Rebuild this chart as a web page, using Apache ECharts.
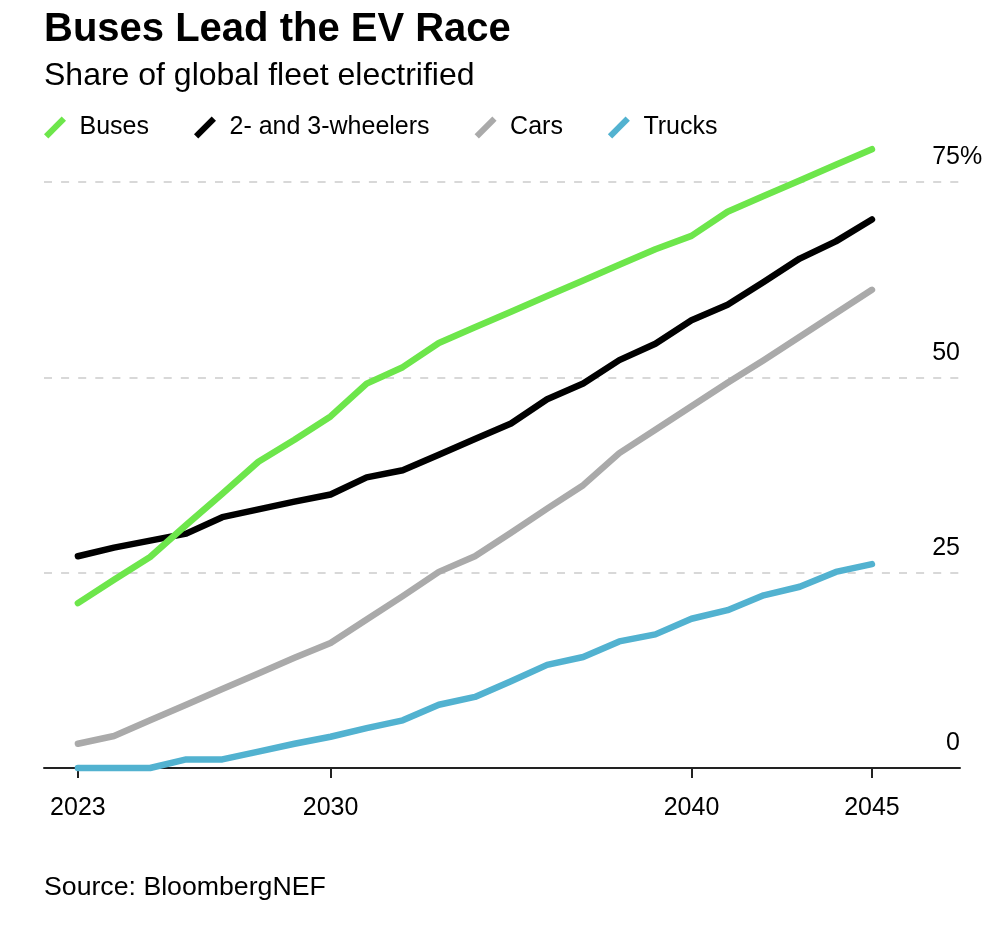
<!DOCTYPE html>
<html>
<head>
<meta charset="utf-8">
<script src="https://cdn.jsdelivr.net/npm/echarts@6/dist/echarts.min.js"></script>
<style>
  html, body { margin: 0; padding: 0; background: #fff; }
  #chart { width: 986px; height: 928px; }
</style>
</head>
<body>
<div id="chart"></div>
<script>
const years = [2023, 2024, 2025, 2026, 2027, 2028, 2029, 2030, 2031, 2032, 2033, 2034,
               2035, 2036, 2037, 2038, 2039, 2040, 2041, 2042, 2043, 2044, 2045];
const buses    = [21.1, 24.1, 27.0, 31.1, 35.1, 39.2, 42.0, 45.0, 49.2, 51.3, 54.4, 56.4,
                  58.4, 60.4, 62.4, 64.4, 66.4, 68.1, 71.2, 73.2, 75.2, 77.2, 79.2];
const wheelers = [27.1, 28.2, 29.1, 30.0, 32.1, 33.1, 34.1, 35.0, 37.2, 38.1, 40.1, 42.1,
                  44.1, 47.2, 49.2, 52.2, 54.3, 57.3, 59.3, 62.2, 65.2, 67.4, 70.2];
const cars     = [3.1, 4.1, 6.1, 8.1, 10.1, 12.1, 14.1, 16.0, 19.0, 22.0, 25.1, 27.1,
                  30.1, 33.2, 36.2, 40.3, 43.3, 46.3, 49.3, 52.2, 55.2, 58.2, 61.2];
const trucks   = [0, 0, 0, 1.1, 1.1, 2.1, 3.1, 4.0, 5.1, 6.1, 8.1, 9.1,
                  11.1, 13.2, 14.2, 16.2, 17.1, 19.1, 20.2, 22.1, 23.2, 25.1, 26.1];
const xTickLabels = [2023, 2030, 2040, 2045];
const yTicks = [0, 25, 50, 75];

const names = ['Buses', '2- and 3-wheelers', 'Cars', 'Trucks'];
const colors = { 'Buses': '#6de64b', '2- and 3-wheelers': '#000000', 'Cars': '#aaaaaa', 'Trucks': '#52b2d0' };
const FONT = 'Liberation Sans';
const slash = 'path://M0,18.5L4.5,23L23,4.5L18.5,0Z';

function pairs(vals) { return years.map((y, i) => [y, vals[i]]); }
function mkSeries(name, vals, z) {
  return {
    name: name, type: 'line', data: pairs(vals), symbol: 'none', clip: false, z: z,
    color: colors[name],
    lineStyle: { color: colors[name], width: 6.5, cap: 'round', join: 'round' },
    emphasis: { disabled: true }
  };
}

const chart = echarts.init(document.getElementById('chart'), null, { renderer: 'canvas' });
chart.setOption({
  animation: false,
  backgroundColor: '#ffffff',
  textStyle: { fontFamily: FONT },
  title: [
    { text: 'Buses Lead the EV Race', left: 44, top: 10, padding: 0,
      textStyle: { fontFamily: FONT, fontSize: 40, fontWeight: 'bold', color: '#000' } },
    { text: 'Share of global fleet electrified', left: 44, top: 60, padding: 0,
      textStyle: { fontFamily: FONT, fontSize: 32, fontWeight: 'normal', color: '#000' } },
    { text: 'Source: BloombergNEF', left: 44, top: 874, padding: 0,
      textStyle: { fontFamily: FONT, fontSize: 26.7, fontWeight: 'normal', color: '#000' } }
  ],
  legend: {
    left: 44, top: 115, padding: 0,
    itemWidth: 23, itemHeight: 22, itemGap: 45,
    selectedMode: false,
    itemStyle: { borderWidth: 0 },
    textStyle: { fontFamily: FONT, fontSize: 25, color: '#000', padding: [0, 0, 0, 8] },
    data: names.map(n => ({ name: n, icon: slash, itemStyle: { color: colors[n], borderWidth: 0 } }))
  },
  grid: { left: 44, right: 26, top: 182, bottom: 160, containLabel: false },
  xAxis: {
    type: 'value', min: 2022.06, max: 2047.44,
    axisLine: { show: true, lineStyle: { color: '#222', width: 2 } },
    axisTick: { show: true, customValues: xTickLabels, length: 10, lineStyle: { color: '#222', width: 2 } },
    axisLabel: { show: true, customValues: xTickLabels, margin: 28, fontFamily: FONT, fontSize: 25, color: '#000',
      formatter: v => String(v) },
    splitLine: { show: false }
  },
  yAxis: [
    {
      type: 'value', position: 'right', min: 0, max: 75, interval: 25,
      axisLine: { show: false }, axisTick: { show: false },
      axisLabel: {
        inside: true, margin: 0, align: 'right', verticalAlign: 'bottom', padding: [0, 0, 12, 0],
        fontFamily: FONT, fontSize: 25, color: '#000',
        formatter: v => String(v)
      },
      splitLine: { show: true, lineStyle: { color: '#d8d8d8', width: 2, type: [8, 9.1] } }
    },
    {
      type: 'value', position: 'right', min: 0, max: 75, interval: 25,
      axisLine: { show: false }, axisTick: { show: false }, splitLine: { show: false },
      axisLabel: {
        inside: false, margin: 0, align: 'left', verticalAlign: 'bottom', padding: [0, 0, 12, 0],
        fontFamily: FONT, fontSize: 25, color: '#000',
        formatter: v => (v === yTicks[yTicks.length - 1] ? '%' : '')
      }
    }
  ],
  series: [
    mkSeries('Cars', cars, 2),
    mkSeries('Trucks', trucks, 3),
    mkSeries('2- and 3-wheelers', wheelers, 4),
    mkSeries('Buses', buses, 5)
  ]
});
</script>
</body>
</html>
